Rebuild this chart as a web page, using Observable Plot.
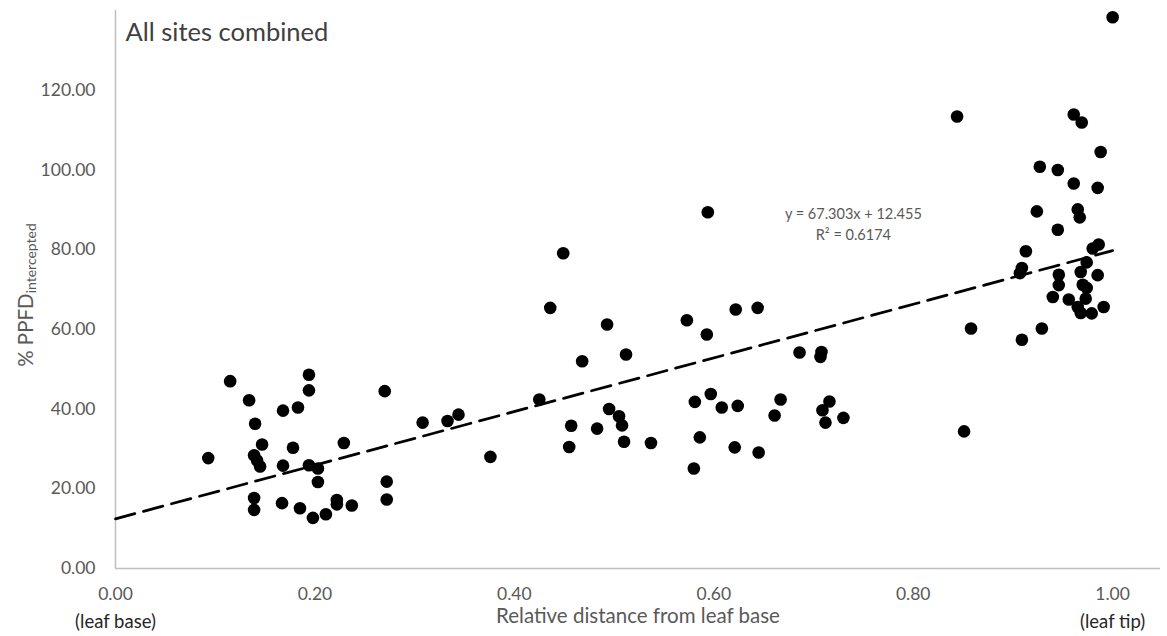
<!DOCTYPE html>
<html>
<head>
<meta charset="utf-8">
<script src="https://cdn.jsdelivr.net/npm/d3@7"></script>
<script src="https://cdn.jsdelivr.net/npm/@observablehq/plot@0.6"></script>
<style>
  body { margin: 0; background: #fff; }
  #chart svg [aria-label="x-axis tick label"] tspan:nth-child(2) { fill: #262626; font-size: 18.5px; }
</style>
</head>
<body>
<div id="chart"></div>
<script>
// ---- data ----
const distance = [
  0.093, 0.115, 0.134, 0.140, 0.147, 0.139, 0.142, 0.145, 0.139, 0.139,
  0.167, 0.168, 0.178, 0.168, 0.183, 0.194, 0.194, 0.194, 0.203, 0.203,
  0.185, 0.198, 0.211, 0.222, 0.222, 0.237, 0.229, 0.270, 0.272, 0.272,
  0.308, 0.333, 0.344, 0.376, 0.425, 0.436, 0.449, 0.457, 0.455, 0.468,
  0.483, 0.493, 0.495, 0.505, 0.508, 0.510, 0.512, 0.537, 0.573, 0.593,
  0.594, 0.581, 0.597, 0.608, 0.624, 0.586, 0.580, 0.621, 0.622, 0.644,
  0.645, 0.686, 0.708, 0.707, 0.667, 0.661, 0.716, 0.709, 0.712, 0.730,
  0.844, 0.851, 0.858, 0.909, 0.909, 0.907, 0.913, 0.924, 0.927, 0.929,
  0.940, 0.945, 0.945, 0.946, 0.946, 0.956, 0.961, 0.961, 0.965, 0.967,
  0.969, 0.965, 0.968, 0.968, 0.970, 0.974, 0.974, 0.973, 0.979, 0.980,
  0.986, 0.985, 0.985, 0.988, 0.991, 1.000
];
const ppfd = [
  27.7, 47.0, 42.2, 36.3, 31.1, 28.4, 27.1, 25.6, 17.7, 14.7,
  16.4, 39.6, 30.3, 25.8, 40.4, 48.6, 44.7, 25.9, 25.1, 21.7,
  15.1, 12.7, 13.6, 17.2, 16.1, 15.8, 31.5, 44.5, 21.8, 17.3,
  36.6, 37.0, 38.6, 28.0, 42.4, 65.4, 79.1, 35.8, 30.5, 52.0,
  35.1, 61.2, 40.0, 38.2, 35.9, 31.8, 53.7, 31.5, 62.3, 58.7,
  89.4, 41.8, 43.8, 40.4, 40.8, 32.9, 25.1, 30.4, 65.0, 65.4,
  29.1, 54.2, 54.3, 53.1, 42.4, 38.4, 41.9, 39.7, 36.6, 37.8,
  113.4, 34.4, 60.2, 57.4, 75.4, 74.1, 79.6, 89.6, 100.8, 60.2,
  68.1, 100.0, 85.0, 73.7, 71.1, 67.5, 113.9, 96.6, 90.1, 88.1,
  111.9, 65.6, 64.1, 74.4, 71.2, 76.8, 70.4, 67.7, 64.0, 80.3,
  81.3, 95.5, 73.6, 104.5, 65.6, 138.3
];
const xTicks = [0, 0.2, 0.4, 0.6, 0.8, 1.0];
const yTicks = [0, 20, 40, 60, 80, 100, 120];
const endLabels = ["(leaf base)", "(leaf tip)"];
const trendSlope = 67.303;
const trendIntercept = 12.455;
const trendR2 = 0.6174;
const eqLabelPos = [0.74, 86.7];
const title = "All sites combined";
const xLabel = "Relative distance from leaf base";
const yLabelMain = "% PPFD";
const yLabelSub = "intercepted";

// ---- build ----
const points = distance.map((d, i) => ({x: d, y: ppfd[i]}));
const xMax = d3.max(distance);
const trend = [0, xMax].map(x => ({x, y: trendIntercept + trendSlope * x}));
const eqText = `y = ${trendSlope}x + ${trendIntercept}\nR² = ${trendR2}`;

const chart = Plot.plot({
  width: 1167,
  height: 636,
  marginLeft: 115,
  marginRight: 7,
  marginTop: 10,
  marginBottom: 68,
  style: {fontFamily: "Lato, sans-serif", color: "#595959", background: "#fff"},
  x: {domain: [0, 1.048]},
  y: {domain: [0, 140]},
  marks: [
    Plot.ruleY([0], {stroke: "#bfbfbf", strokeWidth: 1.5}),
    Plot.ruleX([0], {stroke: "#bfbfbf", strokeWidth: 1.5}),
    Plot.axisX({
      ticks: xTicks, tickSize: 0, tickPadding: 13, fontSize: 17.5, lineHeight: 1.5, label: null,
      tickFormat: d => {
        const s = d.toFixed(2);
        const i = xTicks.indexOf(d);
        if (i === 0) return s + "\n" + endLabels[0];
        if (i === xTicks.length - 1) return s + "\n" + endLabels[1];
        return s;
      }
    }),
    Plot.axisY({ticks: yTicks, tickSize: 0, tickPadding: 20, fontSize: 17.5, label: null, tickFormat: d => d.toFixed(2)}),
    Plot.line(trend, {x: "x", y: "y", stroke: "#000", strokeWidth: 2.75, strokeDasharray: "20,9"}),
    Plot.dot(points, {x: "x", y: "y", r: 6.3, fill: "#000", stroke: null}),
    Plot.text([eqText], {x: () => eqLabelPos[0], y: () => eqLabelPos[1], text: d => d, fontSize: 14.5, fill: "#595959", lineHeight: 1.45}),
    Plot.text([title], {frameAnchor: "top-left", dx: 10, dy: 12, lineAnchor: "top", fontSize: 25.5, fill: "#404040"}),
    Plot.text([xLabel], {frameAnchor: "bottom", dy: 54, fontSize: 20.5, fill: "#595959"})
  ]
});

const svg = d3.select(chart);
const yl = svg.append("text")
  .attr("transform", "translate(33,295) rotate(-90)")
  .attr("text-anchor", "middle")
  .attr("fill", "#595959")
  .style("font-family", "Lato, sans-serif");
yl.append("tspan").attr("font-size", 20.5).text(yLabelMain);
yl.append("tspan").attr("font-size", 14).attr("dy", 3).text(yLabelSub);

document.getElementById("chart").appendChild(chart);
</script>
</body>
</html>
